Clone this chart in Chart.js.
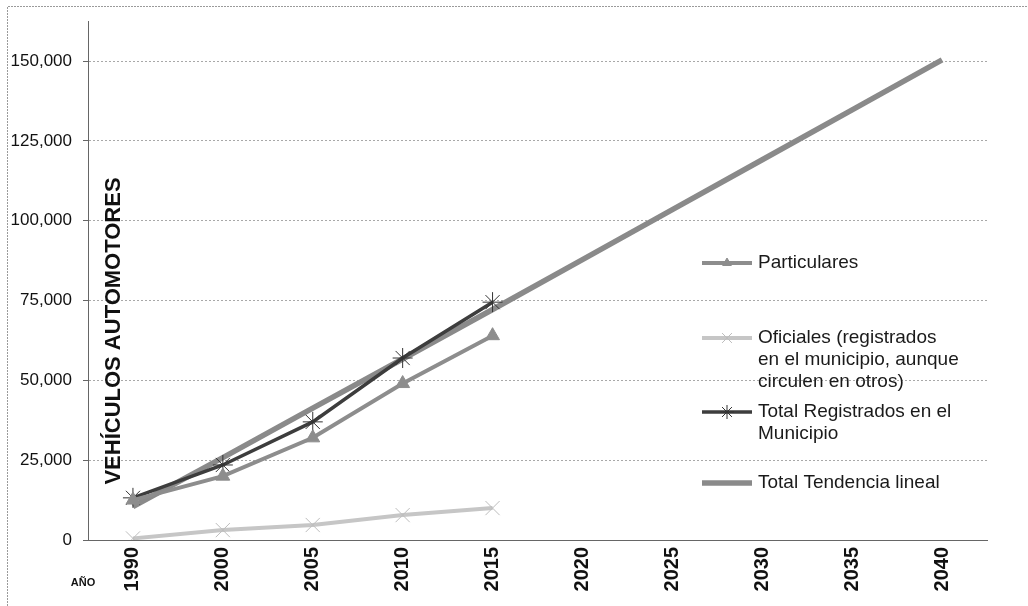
<!DOCTYPE html>
<html>
<head>
<meta charset="utf-8">
<script src="https://cdn.jsdelivr.net/npm/chart.js"></script>
<style>
  html, body { margin: 0; padding: 0; background: #fff; }
  #wrap { position: relative; width: 1028px; height: 606px; }
  canvas { display: block; }
</style>
</head>
<body>
<div id="wrap"><canvas id="c" width="1028" height="606"></canvas></div>
<script>
// ---- Data ----
const years = ['1990', '2000', '2005', '2010', '2015', '2020', '2025', '2030', '2035', '2040'];
const particulares = [12500, 20000, 32000, 49000, 64000];
const oficiales = [500, 3100, 4700, 7800, 10000];
const totalRegistrados = [13200, 23500, 37000, 57000, 74500];
const totalTendencia = [10500, 25800, 41300, 56700, 72200, 87800, 103500, 119100, 134700, 150400];
const yTicks = [0, 25000, 50000, 75000, 100000, 125000, 150000];
const seriesNames = ['Particulares', 'Oficiales (registrados en el municipio, aunque circulen en otros)', 'Total Registrados en el Municipio', 'Total Tendencia lineal'];
const legendLines = [
  ['Particulares'],
  ['Oficiales (registrados', 'en el municipio, aunque', 'circulen en otros)'],
  ['Total Registrados en el', 'Municipio'],
  ['Total Tendencia lineal']
];
const yTitle = 'VEHÍCULOS AUTOMOTORES';
const xTitle = 'AÑO';

const FONT = '"Liberation Sans", Arial, sans-serif';

const styles = [
  { color: '#8d8d8d', width: 4, pointStyle: 'triangle', radius: 8, pbw: 1, pfill: '#8d8d8d', pstroke: '#8d8d8d' },
  { color: '#c6c6c6', width: 4, pointStyle: 'crossRot', radius: 10, pbw: 1, pfill: '#bdbdbd', pstroke: '#bdbdbd' },
  { color: '#3d3d3d', width: 3.5, pointStyle: 'star', radius: 10, pbw: 1, pfill: '#333', pstroke: '#333' },
  { color: '#8a8a8a', width: 5.5, pointStyle: false, radius: 0, pbw: 0, pfill: '#8a8a8a', pstroke: '#8a8a8a' }
];
const seriesData = [particulares, oficiales, totalRegistrados, totalTendencia];

const datasets = seriesData.map((d, i) => ({
  label: seriesNames[i],
  data: d,
  borderColor: styles[i].color,
  backgroundColor: styles[i].pfill,
  borderWidth: styles[i].width,
  pointStyle: styles[i].pointStyle,
  pointRadius: styles[i].radius,
  pointBorderWidth: styles[i].pbw,
  pointBackgroundColor: styles[i].pfill,
  pointBorderColor: styles[i].pstroke,
  tension: 0,
  fill: false
}));

const framePlugin = {
  id: 'frame',
  beforeDraw(chart) {
    const ctx = chart.ctx;
    ctx.save();
    ctx.fillStyle = '#fff';
    ctx.fillRect(0, 0, chart.width, chart.height);
    ctx.strokeStyle = '#9a9a9a';
    ctx.lineWidth = 1;
    ctx.setLineDash([2, 1]);
    ctx.beginPath();
    ctx.moveTo(7.5, chart.height);
    ctx.lineTo(7.5, 6.5);
    ctx.lineTo(chart.width, 6.5);
    ctx.stroke();
    ctx.restore();
  },
  afterDraw(chart) {
    const ctx = chart.ctx;
    ctx.save();
    ctx.translate(114, 331);
    ctx.rotate(-Math.PI / 2);
    ctx.fillStyle = '#111';
    ctx.font = 'bold 22px ' + FONT;
    ctx.textAlign = 'center';
    ctx.textBaseline = 'middle';
    ctx.fillText(yTitle, 0, 0);
    ctx.restore();

    ctx.save();
    ctx.fillStyle = '#111';
    ctx.font = 'bold 11px ' + FONT;
    ctx.textAlign = 'center';
    ctx.textBaseline = 'middle';
    ctx.fillText(xTitle, 83, 583);
    ctx.restore();

    const itemY = [263, 338, 412, 483];
    const x0 = 702, x1 = 752, tx = 758, lh = 22;
    legendLines.forEach((lines, i) => {
      const st = styles[i];
      const y = itemY[i];
      ctx.save();
      ctx.strokeStyle = st.color;
      ctx.lineWidth = st.width;
      ctx.beginPath();
      ctx.moveTo(x0, y);
      ctx.lineTo(x1, y);
      ctx.stroke();
      if (st.pointStyle && Chart.helpers && Chart.helpers.drawPoint) {
        ctx.fillStyle = st.pfill;
        ctx.strokeStyle = st.pstroke;
        ctx.lineWidth = st.pbw;
        Chart.helpers.drawPoint(ctx, { pointStyle: st.pointStyle, radius: st.radius - 3, rotation: 0, borderWidth: st.pbw }, (x0 + x1) / 2, y);
      }
      ctx.fillStyle = '#1a1a1a';
      ctx.font = '19px ' + FONT;
      ctx.textAlign = 'left';
      ctx.textBaseline = 'middle';
      lines.forEach((t, k) => ctx.fillText(t, tx, y + k * lh));
      ctx.restore();
    });
  }
};

Chart.defaults.font.family = FONT;
Chart.defaults.color = '#111';

new Chart(document.getElementById('c'), {
  type: 'line',
  data: { labels: years, datasets: datasets },
  options: {
    responsive: false,
    devicePixelRatio: 1,
    animation: false,
    layout: { padding: { left: 0, right: 41, top: 20, bottom: 0 } },
    plugins: { legend: { display: false }, tooltip: { enabled: false }, title: { display: false } },
    scales: {
      x: {
        type: 'category',
        offset: true,
        grid: { display: false, drawTicks: false, drawOnChartArea: false },
        border: { display: true, color: '#666', width: 1 },
        ticks: {
          minRotation: 90, maxRotation: 90, autoSkip: false, padding: 7,
          font: { size: 20, weight: 'bold', family: FONT }, color: '#111'
        },
        afterFit(s) { s.height = 66; }
      },
      y: {
        min: 0, max: 162500,
        afterBuildTicks(s) { s.ticks = yTicks.map(v => ({ value: v })); },
        grid: { color: '#a8a8a8', lineWidth: 1, drawTicks: true, tickLength: 5, tickColor: '#666' },
        border: { display: true, color: '#666', width: 1, dash: [2, 2] },
        ticks: {
          padding: 11,
          font: { size: 17, family: FONT }, color: '#111',
          callback(v) { return Number(v).toLocaleString('en-US'); }
        },
        afterFit(s) { s.width = 88; }
      }
    }
  },
  plugins: [framePlugin]
});
</script>
</body>
</html>
